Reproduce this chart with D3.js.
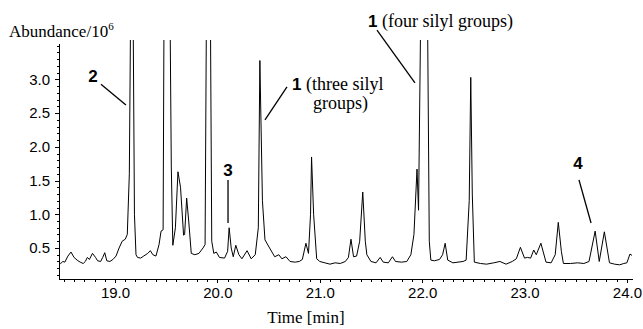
<!DOCTYPE html>
<html>
<head>
<meta charset="utf-8">
<title>Chromatogram</title>
<script src="https://cdn.jsdelivr.net/npm/d3@7"></script>
<style>
body, html{
  margin: 0;
  padding: 0;
  background: white;
  overflow: hidden;
}
.axis path,
.axis line {
  fill: none;
  stroke: black;
  stroke-width: 1;
  shape-rendering: crispEdges;
}
.axis text {
  font-family: "Liberation Sans", Arial, sans-serif;
  font-size: 15px;
  fill: black;
}
.serif {
  font-family: "Liberation Serif", "Times New Roman", serif;
  font-size: 18px;
  fill: black;
}
.num {
  font-family: "Liberation Sans", Arial, sans-serif;
  font-weight: bold;
  font-size: 17px;
  fill: black;
}
</style>
</head>
<body>
<div id="chart"></div>
<script>

// time [min], abundance/10^6
var times = [18.45, 18.47, 18.49, 18.51, 18.54, 18.57, 18.60, 18.63, 18.66, 18.69,
  18.71, 18.73, 18.75, 18.78, 18.81, 18.83, 18.86, 18.88, 18.90, 18.92,
  18.95, 18.98, 19.01, 19.04, 19.07, 19.10, 19.12, 19.14, 19.155, 19.175,
  19.19, 19.205, 19.22, 19.25, 19.28, 19.32, 19.345, 19.37, 19.40, 19.43,
  19.45, 19.47, 19.48, 19.535, 19.55, 19.565, 19.59, 19.615, 19.64, 19.67,
  19.68, 19.70, 19.72, 19.745, 19.78, 19.82, 19.86, 19.88, 19.895, 19.93,
  19.945, 19.965, 19.99, 20.02, 20.07, 20.10, 20.115, 20.135, 20.155, 20.18,
  20.21, 20.24, 20.29, 20.33, 20.37, 20.40, 20.415, 20.44, 20.465, 20.51,
  20.56, 20.60, 20.63, 20.67, 20.71, 20.76, 20.80, 20.83, 20.865, 20.89,
  20.91, 20.92, 20.94, 20.97, 21.00, 21.05, 21.10, 21.15, 21.20, 21.25,
  21.28, 21.305, 21.33, 21.36, 21.39, 21.42, 21.445, 21.46, 21.50, 21.55,
  21.59, 21.62, 21.67, 21.71, 21.74, 21.80, 21.85, 21.89, 21.92, 21.95,
  21.965, 21.99, 22.05, 22.07, 22.085, 22.12, 22.17, 22.20, 22.225, 22.25,
  22.30, 22.35, 22.40, 22.43, 22.46, 22.475, 22.49, 22.51, 22.57, 22.63,
  22.70, 22.76, 22.82, 22.88, 22.92, 22.96, 23.00, 23.03, 23.06, 23.09,
  23.115, 23.16, 23.21, 23.26, 23.30, 23.33, 23.36, 23.38, 23.45, 23.52,
  23.58, 23.63, 23.69, 23.73, 23.78, 23.83, 23.88, 23.93, 23.97, 24.00,
  24.03, 24.05]

var abundance = [0.29, 0.27, 0.30, 0.29, 0.38, 0.44, 0.36, 0.32, 0.29, 0.27,
  0.30, 0.36, 0.33, 0.42, 0.36, 0.31, 0.30, 0.36, 0.43, 0.31,
  0.30, 0.33, 0.38, 0.50, 0.60, 0.63, 0.70, 1.6, 4.5, 4.5,
  1.0, 0.40, 0.36, 0.35, 0.38, 0.42, 0.46, 0.40, 0.38, 0.55,
  0.75, 0.77, 4.5, 4.5, 1.7, 0.54, 0.80, 1.63, 1.40, 0.69,
  0.70, 1.24, 0.90, 0.42, 0.40, 0.42, 0.50, 0.55, 4.5, 4.5,
  0.60, 0.42, 0.44, 0.36, 0.35, 0.45, 0.80, 0.50, 0.37, 0.54,
  0.40, 0.34, 0.46, 0.34, 0.40, 0.80, 3.28, 1.2, 0.62, 0.50,
  0.37, 0.40, 0.34, 0.37, 0.30, 0.29, 0.30, 0.33, 0.57, 0.42,
  1.0, 1.85, 1.0, 0.34, 0.30, 0.28, 0.26, 0.28, 0.27, 0.30,
  0.36, 0.63, 0.37, 0.38, 0.60, 1.33, 0.60, 0.40, 0.30, 0.28,
  0.36, 0.29, 0.28, 0.37, 0.30, 0.29, 0.30, 0.40, 0.70, 1.67,
  1.06, 4.5, 4.5, 0.60, 0.32, 0.31, 0.33, 0.40, 0.57, 0.32,
  0.28, 0.29, 0.30, 0.32, 1.2, 3.03, 1.3, 0.29, 0.27, 0.26,
  0.28, 0.30, 0.26, 0.30, 0.34, 0.51, 0.35, 0.36, 0.35, 0.47,
  0.40, 0.57, 0.29, 0.28, 0.40, 0.88, 0.45, 0.27, 0.27, 0.28,
  0.27, 0.30, 0.75, 0.30, 0.74, 0.28, 0.26, 0.25, 0.27, 0.28,
  0.41, 0.39]

var yMajor = [0.5, 1.0, 1.5, 2.0, 2.5, 3.0]
var xMajor = [19, 20, 21, 22, 23, 24]

// peak labels: number, label anchor (t, v), leader line from/to (t, v)
var labelNums = ["2", "1", "1", "3", "4"]
var labelAt = [[18.785, 2.96], [20.729, 2.84], [21.471, 3.78], [20.104, 1.57], [23.523, 1.67]]
var leaderFrom = [[18.863, 2.93], [20.68, 2.89], [21.559, 3.73], [20.104, 1.51], [23.532, 1.51]]
var leaderTo = [[19.107, 2.62], [20.465, 2.40], [21.93, 2.95], [20.104, 0.87], [23.65, 0.87]]

var W = 643, H = 329

var svg = d3.select("#chart").append("svg")
  .attr("width", W)
  .attr("height", H)

var x = d3.scaleLinear().domain([18.453, 24.05]).range([59, 632])
var y = d3.scaleLinear().domain([0.04, 3.54]).range([279, 43])

svg.append("clipPath").attr("id", "clip")
  .append("rect")
  .attr("x", 59).attr("y", 40)
  .attr("width", 580).attr("height", 240)

// minor ticks every 0.1
var yMinor = d3.range(1, 36).map(function(d){ return d / 10 })
var xMinor = d3.range(185, 241).map(function(d){ return d / 10 })

svg.append("g")
  .attr("class", "axis")
  .attr("transform", "translate(59,0)")
  .call(d3.axisLeft(y).tickValues(yMinor).tickSize(2).tickFormat(""))
  .select(".domain").remove()

svg.append("g")
  .attr("class", "axis")
  .attr("transform", "translate(0,279)")
  .call(d3.axisBottom(x).tickValues(xMinor).tickSize(3).tickFormat(""))
  .select(".domain").remove()

svg.append("g")
  .attr("class", "axis")
  .attr("transform", "translate(59,0)")
  .call(d3.axisLeft(y).tickValues(yMajor).tickSize(4).tickPadding(5).tickSizeOuter(0)
    .tickFormat(d3.format(".1f")))

svg.append("g")
  .attr("class", "axis")
  .attr("transform", "translate(0,279)")
  .call(d3.axisBottom(x).tickValues(xMajor).tickSize(4).tickPadding(4).tickSizeOuter(0)
    .tickFormat(d3.format(".1f")))

var pts = times.map(function(t, i){ return [t, abundance[i]] })

var line = d3.line()
  .x(function(d){ return x(d[0]) })
  .y(function(d){ return y(d[1]) })

svg.append("path")
  .datum(pts)
  .attr("clip-path", "url(#clip)")
  .attr("d", line)
  .style("fill", "none")
  .style("stroke", "black")
  .style("stroke-width", 1)
  .style("stroke-linejoin", "round")

// leader lines
svg.selectAll(".leader")
  .data(labelNums)
  .enter().append("line")
  .attr("class", "leader")
  .attr("x1", function(d, i){ return x(leaderFrom[i][0]) })
  .attr("y1", function(d, i){ return y(leaderFrom[i][1]) })
  .attr("x2", function(d, i){ return x(leaderTo[i][0]) })
  .attr("y2", function(d, i){ return y(leaderTo[i][1]) })
  .style("stroke", "black")
  .style("stroke-width", 1.3)

svg.selectAll(".num")
  .data(labelNums)
  .enter().append("text")
  .attr("class", "num")
  .attr("x", function(d, i){ return x(labelAt[i][0]) })
  .attr("y", function(d, i){ return y(labelAt[i][1]) })
  .attr("text-anchor", function(d, i){ return (i == 1 || i == 2) ? "start" : "middle" })
  .text(function(d){ return d })

// text next to the bold numbers
svg.append("text").attr("class", "serif")
  .attr("x", x(labelAt[1][0]) + 14).attr("y", y(labelAt[1][1]))
  .text("(three silyl")
svg.append("text").attr("class", "serif")
  .attr("x", x(labelAt[1][0]) + 21).attr("y", y(labelAt[1][1]) + 19)
  .text("groups)")
svg.append("text").attr("class", "serif")
  .attr("x", x(labelAt[2][0]) + 14).attr("y", y(labelAt[2][1]))
  .text("(four silyl groups)")

// axis titles
var yt = svg.append("text").attr("class", "serif")
  .attr("x", 9).attr("y", 37)
  .style("font-size", "17px")
  .text("Abundance/10")
yt.append("tspan")
  .attr("dy", -7)
  .style("font-size", "11px")
  .text("6")

svg.append("text").attr("class", "serif")
  .attr("x", 306).attr("y", 323)
  .attr("text-anchor", "middle")
  .style("font-size", "17px")
  .text("Time [min]")

</script>
</body>
</html>
